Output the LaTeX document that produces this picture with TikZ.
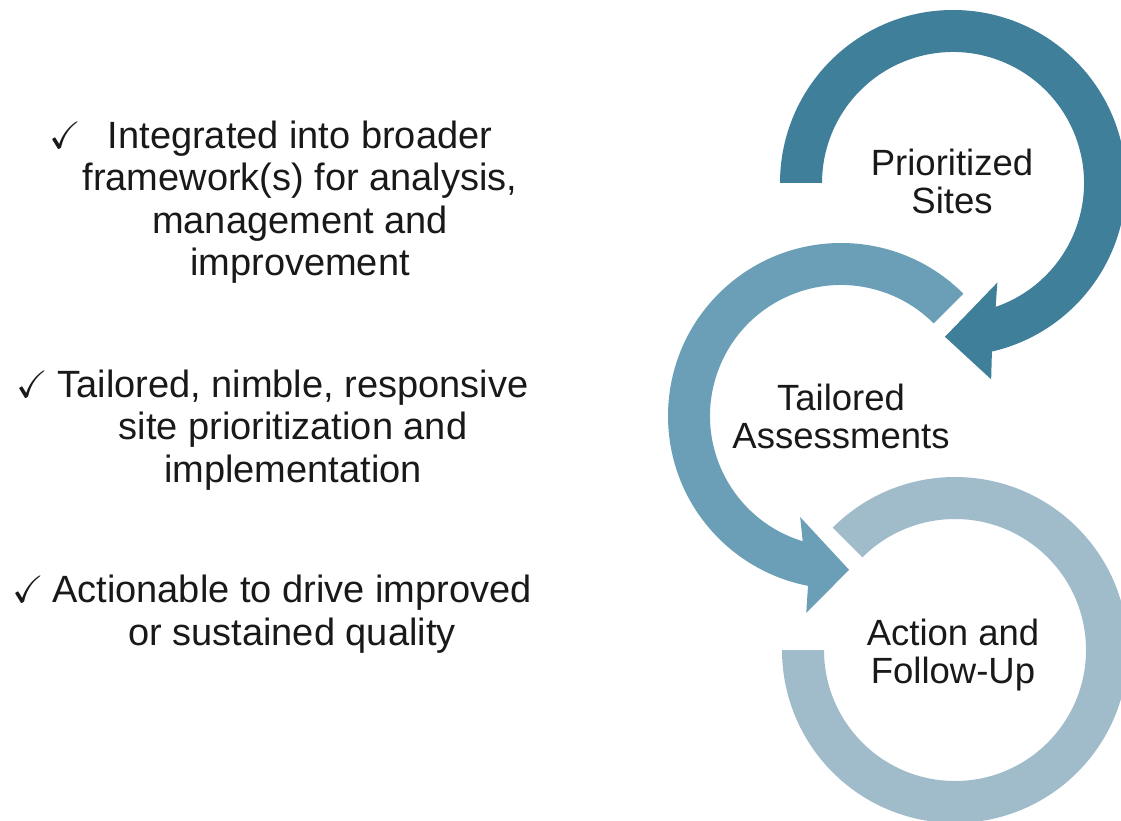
\documentclass[tikz,border=0pt]{standalone}
\usepackage{fontspec}
\usepackage{amssymb}
\setmainfont{Liberation Sans}
\usetikzlibrary{calc}
\definecolor{ringdark}{HTML}{3F7F99}
\definecolor{ringmid}{HTML}{6A9FB7}
\definecolor{ringlight}{HTML}{A0BBCA}
\newcommand{\checkitem}[1]{\llap{$\checkmark$\hspace{#1}}}
\tikzset{
  point/.style={align=center, inner sep=0pt, text=black!90, font=\fontsize{38}{42.5}\selectfont},
  ringlabel/.style={align=center, inner sep=0pt, text=black!90, font=\fontsize{36.5}{38}\selectfont}
}
\begin{document}
\begin{tikzpicture}[x=1pt,y=1pt]
    \useasboundingbox (0,0) rectangle (1121,-821);
    \clip (0,0) rectangle (1121,-821);
    \coordinate (P) at (953,-183);
    \coordinate (T) at (841,-416);
    \coordinate (F) at (955,-650);
    \fill[ringlight] ($(F)+(135:173)$) arc[start angle=135, end angle=-180, radius=173]
        -- ($(F)+(180:131)$) arc[start angle=-180, end angle=135, radius=131] -- cycle;
    \fill[ringmid] ($(T)+(45:173)$) arc[start angle=45, end angle=259, radius=173]
        -- ($(T)+(260:200)$) -- ($(T)+(273:154)$) -- ($(T)+(248:109)$)
        -- ($(T)+(253:131)$) arc[start angle=253, end angle=45, radius=131] -- cycle;
    \fill[ringdark] ($(P)+(180:173)$) arc[start angle=180, end angle=-77, radius=173]
        -- ($(P)+(-79:200)$) -- ($(P)+(-93:154)$) -- ($(P)+(-66:109)$)
        -- ($(P)+(-71:131)$) arc[start angle=-71, end angle=180, radius=131] -- cycle;
    \node[ringlabel] (sites) at (952,-181) {Prioritized\\Sites};
    \node[ringlabel] (assess) at (841,-416) {Tailored\\Assessments};
    \node[ringlabel] (action) at (953,-655) {Action and\\Follow-Up};
    \node[point] (first) at (300,-202) {\checkitem{27pt}Integrated into broader\\framework(s) for analysis,\\management and\\improvement};
    \node[point] (second) at (293,-430) {\checkitem{9pt}Tailored, nimble, responsive\\site prioritization and\\implementation};
    \node[point] (third) at (292,-614) {\checkitem{8pt}Actionable to drive improved\\or sustained quality};
\end{tikzpicture}
\end{document}
